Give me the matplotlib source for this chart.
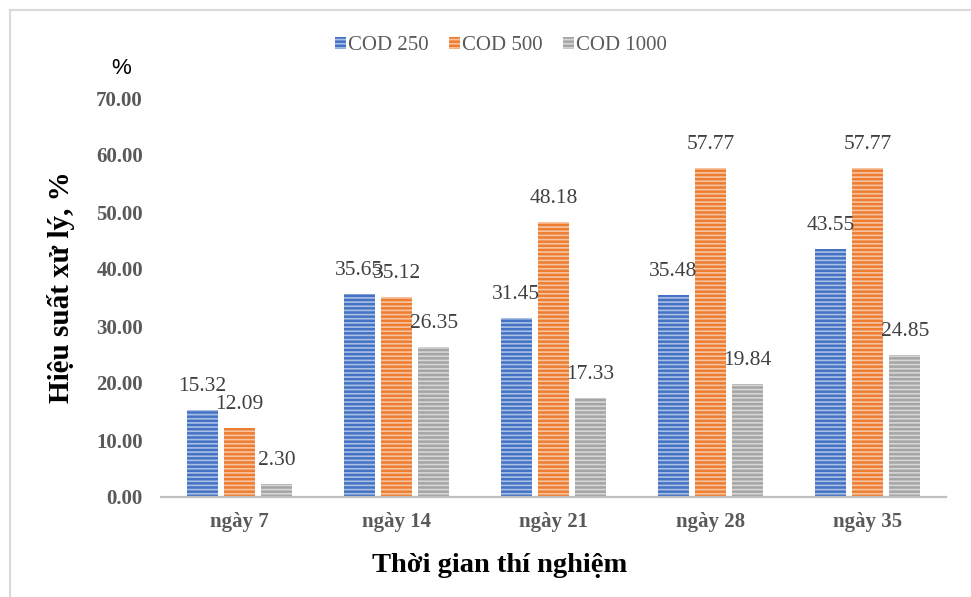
import matplotlib.pyplot as plt
import matplotlib.lines as mlines
import numpy as np

# Treatment efficiency per sampling day
days = ["ngày 7", "ngày 14", "ngày 21", "ngày 28", "ngày 35"]
series_names = ["COD 250", "COD 500", "COD 1000"]
cod250 = [15.32, 35.65, 31.45, 35.48, 43.55]
cod500 = [12.09, 35.12, 48.18, 57.77, 57.77]
cod1000 = [2.30, 26.35, 17.33, 19.84, 24.85]
y_ticks = [0, 10, 20, 30, 40, 50, 60, 70]

colors = ["#4472C4", "#ED7D31", "#A5A5A5"]
serif = ["Liberation Serif", "DejaVu Serif"]

plt.rcParams["hatch.linewidth"] = 1.2

fig = plt.figure(figsize=(9.71, 5.97), dpi=100)
ax = fig.add_axes([161 / 971, 1 - 497 / 597, (946 - 161) / 971, (497 - 98) / 597])

x = np.arange(len(days))
width = 0.2
step = 0.237
for i, (vals, name, c) in enumerate(zip([cod250, cod500, cod1000], series_names, colors)):
    pos = x + (i - 1) * step
    bars = ax.bar(pos, vals, width, color=c, edgecolor=(1, 1, 1, 0.55),
                  linewidth=0, hatch="----", label=name)
    for b, v in zip(bars, vals):
        ax.annotate(f"{v:.2f}", (b.get_x() + b.get_width() / 2, v),
                    xytext=(0, 17), textcoords="offset points",
                    ha="center", va="center", fontsize=15.5,
                    family=serif, color="#404040")

ax.set_xlim(-0.5, len(days) - 0.5)
ax.set_ylim(0, 70)
ax.set_yticks(y_ticks)
ax.set_yticklabels([f"{t:.2f}" for t in y_ticks], family=serif,
                   fontweight="bold", fontsize=15, color="#595959")
ax.set_xticks(x)
ax.set_xticklabels(days, family=serif, fontweight="bold",
                   fontsize=15, color="#595959")
ax.tick_params(axis="y", length=0, pad=13)
ax.tick_params(axis="x", length=0, pad=11)

for s in ["top", "right", "left"]:
    ax.spines[s].set_visible(False)
ax.spines["bottom"].set_color("#BFBFBF")
ax.spines["bottom"].set_linewidth(1.6)

leg = ax.legend(loc="center", bbox_to_anchor=(501 / 971, 1 - 46 / 597),
                bbox_transform=fig.transFigure, ncol=3, frameon=False,
                prop={"family": serif, "size": 15}, handlelength=0.5,
                handleheight=0.5, handletextpad=0.1, columnspacing=1.0)
for t in leg.get_texts():
    t.set_color("#595959")

fig.text(61 / 971, 1 - 287 / 597, "Hiệu suất xử lý, %", rotation=90,
         ha="center", va="center", family=serif, fontweight="bold",
         fontsize=21, color="black")
fig.text(121 / 971, 1 - 69 / 597, "%", ha="center", va="center",
         family=["Liberation Sans", "DejaVu Sans"], fontsize=16, color="black")
fig.text(500 / 971, 1 - 566 / 597, "Thời gian thí nghiệm", ha="center",
         va="center", family=serif, fontweight="bold", fontsize=20.5,
         color="black")

# light chart frame on the top and left edges
fig.add_artist(mlines.Line2D([10 / 971, 1], [1 - 10 / 597] * 2,
                             transform=fig.transFigure, color="#D9D9D9", lw=1.5))
fig.add_artist(mlines.Line2D([10 / 971] * 2, [0, 1 - 10 / 597],
                             transform=fig.transFigure, color="#D9D9D9", lw=1.5))

fig.savefig("out.png", dpi=100)
